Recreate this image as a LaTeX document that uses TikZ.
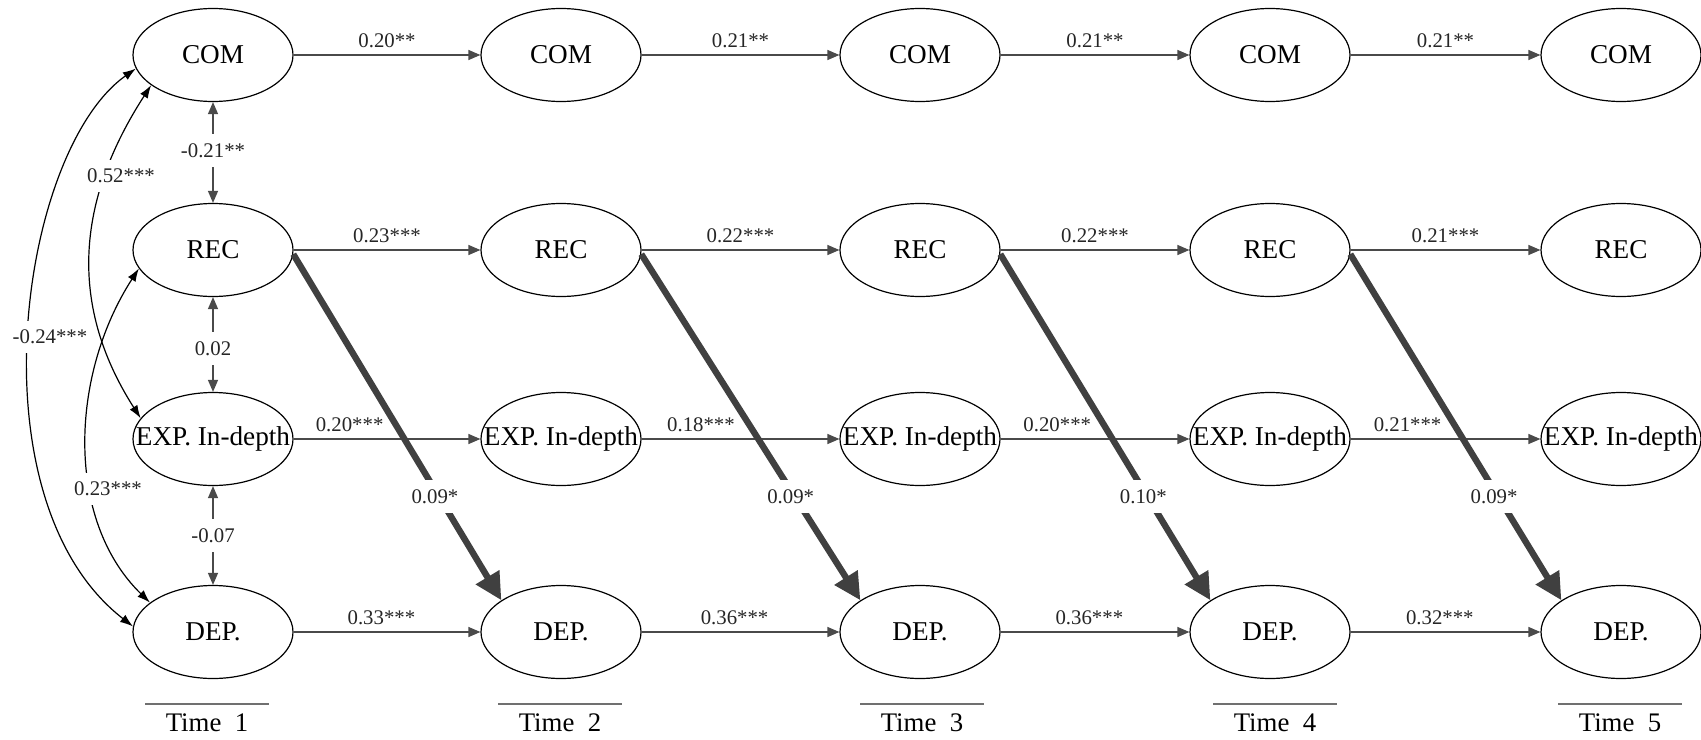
\documentclass[tikz,border=0pt]{standalone}
\usepackage{fontspec}
\setmainfont{Liberation Serif}
\usetikzlibrary{arrows.meta,shapes.geometric}
\definecolor{ln}{HTML}{4A4A4A}
\definecolor{thk}{HTML}{404040}
\definecolor{tl}{HTML}{707070}
\begin{document}
\begin{tikzpicture}[x=0.5pt,y=-0.5pt,
  lv/.style={ellipse, draw=black, line width=0.6pt, minimum width=80pt, minimum height=46.5pt,
    inner xsep=-30pt, inner ysep=0pt, font=\fontsize{13.6}{16}\selectfont},
  reg/.style={draw=ln, line width=0.6pt, -{Triangle[length=6pt,width=5pt]}},
  dbl/.style={draw=ln, line width=0.6pt, {Triangle[length=6pt,width=5pt]}-{Triangle[length=6pt,width=5pt]}},
  cov/.style={draw=black, line width=0.6pt, {Latex[length=6.5pt,width=4.5pt]}-{Latex[length=6.5pt,width=4.5pt]}},
  lag/.style={draw=thk, line width=3.2pt, -{Triangle[length=13.5pt,width=13pt]}},
  coef/.style={font=\fontsize{10.4}{12}\selectfont, text=black!85, inner sep=1.5pt},
  gap/.style={coef, fill=white, inner xsep=1pt, inner ysep=4.5pt},
  tlbl/.style={font=\fontsize{13.4}{16}\selectfont, inner sep=0pt},
  tline/.style={draw=tl, line width=0.6pt}]
\useasboundingbox (0,0) rectangle (1701,739);

% latent variables
\foreach \i/\x in {1/213,2/561,3/920,4/1270,5/1621}{
  \node[lv] (c\i) at (\x,55)  {COM};
  \node[lv] (r\i) at (\x,250) {REC};
  \node[lv] (e\i) at (\x,439) {EXP. In-depth};
  \node[lv] (d\i) at (\x,632) {DEP.};
}

% autoregressive paths
\foreach \i/\j/\lc/\lr/\le/\ld in {
  1/2/{0.20**}/{0.23***}/{0.20***}/{0.33***},
  2/3/{0.21**}/{0.22***}/{0.18***}/{0.36***},
  3/4/{0.21**}/{0.22***}/{0.20***}/{0.36***},
  4/5/{0.21**}/{0.21***}/{0.21***}/{0.32***}}{
  \draw[reg] (c\i) -- node[coef,above=2pt,pos=.5]{\lc} (c\j);
  \draw[reg] (r\i) -- node[coef,above=2pt,pos=.5]{\lr} (r\j);
  \draw[reg] (e\i) -- node[coef,above=2pt,pos=.3]{\le} (e\j);
  \draw[reg] (d\i) -- node[coef,above=2pt,pos=.47]{\ld} (d\j);
}

% cross-lagged paths REC -> DEP
\foreach \i/\j/\l in {1/2/{0.09*},2/3/{0.09*},3/4/{0.10*},4/5/{0.09*}}{
  \draw[lag] (r\i.-3) -- node[gap,pos=.7,xshift=-2pt]{\l} (d\j.152);
}

% within-time correlations (adjacent)
\draw[dbl] (c1) -- node[gap,yshift=1pt]{-0.21**} (r1);
\draw[dbl] (r1) -- node[gap,yshift=-2pt]{0.02} (e1);
\draw[dbl] (e1) -- node[gap]{-0.07} (d1);

% curved correlations
\draw[cov] (c1.190) .. controls (20,150) and (-30,500) .. (d1.176);
\draw[cov] (c1.206) .. controls (80,195) and (65,300) .. (e1.164);
\draw[cov] (r1.194) .. controls (70,375) and (65,520) .. (d1.155);
\node[gap] (k1) at (50,337) {-0.24***};
\node[gap] (k2) at (121,176) {0.52***};
\node[gap] (k3) at (108,489) {0.23***};

% time labels
\foreach \i/\x in {1/207,2/560,3/922,4/1275,5/1620}{
  \node[tlbl] (t\i) at (\x,723) {Time\ \ \i};
  \draw[tline] ([shift={(-62,-19)}]t\i.center) -- ([shift={(62,-19)}]t\i.center);
}
\end{tikzpicture}
\end{document}
